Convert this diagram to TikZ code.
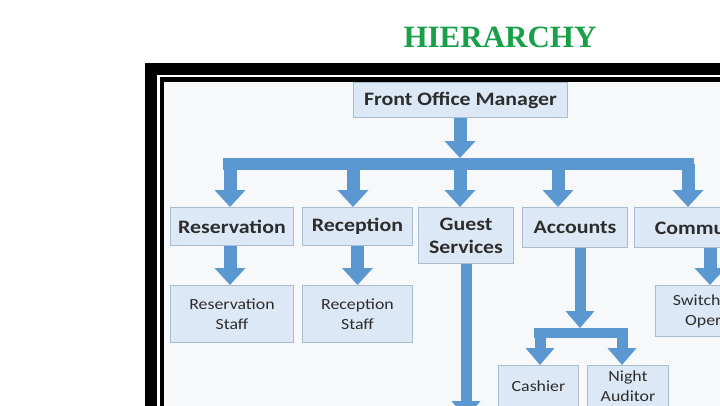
\documentclass[tikz,border=0pt]{standalone}
\usepackage{fontspec}
\setmainfont{Liberation Serif}
\newfontfamily\boxfont[FakeStretch=1.15]{Carlito}
\usetikzlibrary{arrows.meta}
\definecolor{titlegreen}{RGB}{24,160,72}
\definecolor{boxfill}{RGB}{220,232,245}
\definecolor{boxline}{RGB}{168,188,210}
\definecolor{arrowblue}{RGB}{91,152,210}
\definecolor{slidebg}{RGB}{247,248,249}
\definecolor{txt}{RGB}{45,45,45}
\begin{document}
\begin{tikzpicture}[x=1pt,y=-1pt,
  box/.style={draw=boxline, line width=1pt, fill=boxfill, anchor=north west, inner sep=0pt, align=center, text=txt},
  bbox/.style={box, font=\boxfont\fontsize{19}{23}\selectfont\bfseries},
  rbox/.style={box, font=\boxfont\fontsize{15.5}{20}\selectfont},
  blk/.style={draw=arrowblue, line width=13pt, -{Triangle[width=30pt,length=17pt]}},
  sblk/.style={draw=arrowblue, line width=11pt, -{Triangle[width=28pt,length=17pt]}},
  barline/.style={draw=arrowblue, line width=12pt},
  sbarline/.style={draw=arrowblue, line width=10pt}]
\clip (0,0) rectangle (720,405);
\fill[white] (0,0) rectangle (720,405);
% title
\node[font=\fontsize{31}{36}\selectfont\bfseries, text=titlegreen] (title) at (500,37) {HIERARCHY};
% frame
\fill[black] (145,63) rectangle (740,420);
\fill[white] (157,74.5) rectangle (740,420);
\fill[black] (160,77) rectangle (740,420);
\fill[slidebg] (164,82) rectangle (740,420);
% level 0
\node[bbox, minimum width=214pt, minimum height=35pt] (fom) at (353,82) {Front Office Manager};
% level 1
\node[bbox, minimum width=123pt, minimum height=38pt] (res) at (170,207) {Reservation};
\node[bbox, minimum width=110pt, minimum height=38pt] (rec) at (302,207) {Reception};
\node[bbox, minimum width=95pt, minimum height=56pt] (guest) at (418,207) {Guest\\Services};
\node[bbox, minimum width=105pt, minimum height=40pt] (acc) at (522,207) {Accounts};
\node[bbox, minimum width=193pt, minimum height=40pt] (comm) at (634,207) {Communications};
% level 2
\node[rbox, minimum width=123pt, minimum height=57pt] (resstaff) at (170,285) {Reservation\\Staff};
\node[rbox, minimum width=110pt, minimum height=57pt] (recstaff) at (302,285) {Reception\\Staff};
\node[rbox, minimum width=125pt, minimum height=51pt] (switch) at (655,285) {Switchboard\\Operator};
\node[rbox, minimum width=80pt, minimum height=42pt] (cash) at (498,365) {Cashier};
\node[rbox, minimum width=81pt, minimum height=42pt] (night) at (587,365) {Night\\Auditor};
% main connectors
\coordinate (fomEnd) at (460,158);
\coordinate (barL) at (223,164);
\coordinate (barR) at (694,164);
\coordinate (d1) at (230,164);
\coordinate (d2) at (353,164);
\coordinate (d3) at (460,164);
\coordinate (d4) at (558,164);
\coordinate (d5) at (688,164);
\draw[blk] (fom.south -| fomEnd) -- (fomEnd);
\draw[barline] (barL) -- (barR);
\draw[blk] (d1) -- (d1 |- res.north);
\draw[blk] (d2) -- (d2 |- rec.north);
\draw[blk] (d3) -- (d3 |- guest.north);
\draw[blk] (d4) -- (d4 |- acc.north);
\draw[blk] (d5) -- (d5 |- comm.north);
% second level connectors
\draw[blk] (res.south -| d1) -- (resstaff.north -| d1);
\draw[blk] (rec.south) -- (recstaff.north);
\coordinate (gEnd) at (466,418);
\draw[sblk] (guest.south -| gEnd) -- (gEnd);
\coordinate (cEnd) at (710,285);
\draw[blk] (comm.south -| cEnd) -- (cEnd);
% accounts sub tree
\coordinate (aEnd) at (580,328);
\coordinate (sbL) at (534,333);
\coordinate (sbR) at (628,333);
\coordinate (s1) at (540,333);
\coordinate (s2) at (622,333);
\draw[sblk] (acc.south -| aEnd) -- (aEnd);
\draw[sbarline] (sbL) -- (sbR);
\draw[sblk] (s1) -- (s1 |- cash.north);
\draw[sblk] (s2) -- (s2 |- night.north);
\end{tikzpicture}
\end{document}
